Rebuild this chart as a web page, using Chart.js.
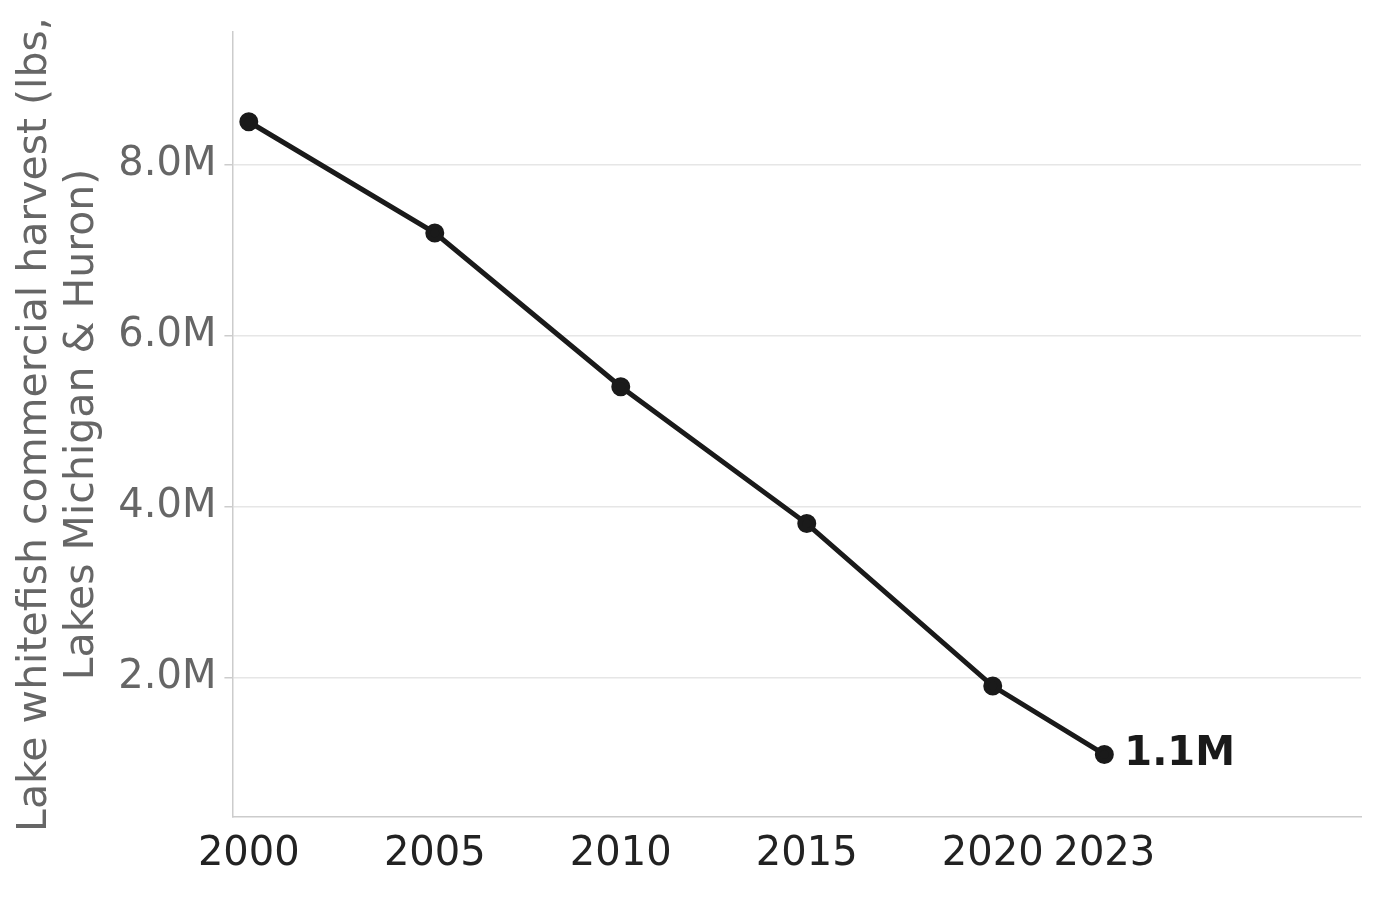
<!DOCTYPE html>
<html><head><meta charset="utf-8">
<script src="https://cdn.jsdelivr.net/npm/chart.js@4"></script>
<style>html,body{margin:0;padding:0;background:#fff}#w{width:1380px;height:899px}</style>
</head><body><div id="w"><canvas id="c"></canvas></div>
<script>
const years = [2000, 2005, 2010, 2015, 2020, 2023];
const harvestM = [8.5, 7.2, 5.4, 3.8, 1.9, 1.1];
const xTicks = [2000, 2005, 2010, 2015, 2020, 2023];
const yTicks = [2, 4, 6, 8];
const endLabel = '1.1M';

const labelPlugin = {
  id: 'endLabel',
  afterDatasetsDraw(chart) {
    const m = chart.getDatasetMeta(0).data;
    const p = m[m.length - 1];
    const ctx = chart.ctx;
    ctx.save();
    ctx.font = 'bold 40px "DejaVu Sans"';
    ctx.fillStyle = '#1a1a1a';
    ctx.textBaseline = 'middle';
    ctx.fillText(endLabel, p.x + 20, p.y);
    ctx.restore();
  }
};

new Chart(document.getElementById('c'), {
  type: 'line',
  data: { datasets: [{
    data: years.map((y, i) => ({x: y, y: harvestM[i]})),
    borderColor: '#1a1a1a', backgroundColor: '#1a1a1a',
    borderWidth: 5, pointRadius: 7, pointHoverRadius: 7, tension: 0
  }]},
  options: {
    responsive: true, maintainAspectRatio: false, animation: false,
    devicePixelRatio: 1,
    layout: { padding: { top: 6, right: 19, left: 8, bottom: 14 } },
    plugins: { legend: { display: false }, tooltip: { enabled: false } },
    scales: {
      x: {
        type: 'linear', min: 1999.56, max: 2029.9,
        afterBuildTicks(s) { s.ticks = xTicks.map(v => ({value: v})); },
        ticks: { color: '#222', font: { family: 'DejaVu Sans', size: 40 }, maxRotation: 0, autoSkip: false,
                 callback: v => String(v), padding: 6 },
        grid: { display: false, drawTicks: true, tickLength: 8, tickColor: '#ccc' },
        border: { color: '#ccc', width: 1.5 }
      },
      y: {
        min: 0.368, max: 9.55,
        afterBuildTicks(s) { s.ticks = yTicks.map(v => ({value: v})); },
        ticks: { color: '#666', font: { family: 'DejaVu Sans', size: 40 }, callback: v => v.toFixed(1) + 'M', padding: 8 },
        grid: { color: '#e6e6e6', lineWidth: 1.5, drawTicks: true, tickLength: 8, tickColor: '#ccc' },
        border: { color: '#ccc', width: 1.5 },
        title: { display: true, text: ['Lake whitefish commercial harvest (lbs,', 'Lakes Michigan & Huron)'],
                 color: '#666', font: { family: 'DejaVu Sans', size: 41, lineHeight: 1.15 }, padding: 4 }
      }
    }
  },
  plugins: [labelPlugin]
});
</script></body></html>
